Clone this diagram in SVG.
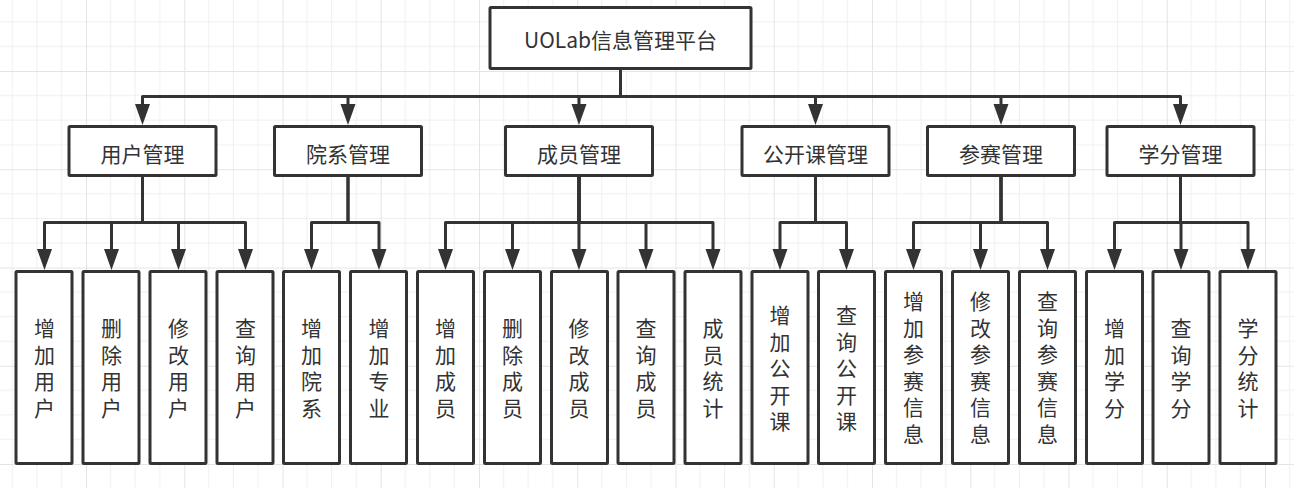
<svg xmlns="http://www.w3.org/2000/svg" width="1294" height="488" viewBox="0 0 1294 488">
<style>
.box{fill:#ffffff;stroke:#333333;stroke-width:3;}
.t{font-family:"Noto Sans CJK SC","Noto Sans",sans-serif;font-size:21px;fill:#333333;text-anchor:middle;dominant-baseline:central;}
.v{font-family:"Noto Sans CJK SC","Noto Sans",sans-serif;font-size:21px;fill:#333333;text-anchor:middle;writing-mode:vertical-rl;letter-spacing:5.5px;}
.c{fill:none;stroke:#333333;stroke-width:3;stroke-linejoin:round;marker-end:url(#arr);}
.minor{stroke:#efefef;stroke-width:1;}
.major{stroke:#e4e4e4;stroke-width:1;}
</style>
<defs>
<marker id="arr" markerUnits="userSpaceOnUse" markerWidth="22" markerHeight="16" viewBox="0 0 22 16" refX="1" refY="8" orient="auto">
<path d="M0,0.5 L21,8 L0,15.5 z" fill="#333333"/>
</marker>
<pattern id="grid" patternUnits="userSpaceOnUse" x="86" y="71" width="98.25" height="98.25">
<path class="minor" d="M24.56,0 V98.25 M49.12,0 V98.25 M73.69,0 V98.25 M0,24.56 H98.25 M0,49.12 H98.25 M0,73.69 H98.25"/>
<path class="major" d="M0.5,0 V98.25 M0,0.5 H98.25"/>
</pattern>
</defs>
<rect x="0" y="0" width="1294" height="488" fill="#ffffff"/>
<rect x="0" y="0" width="1294" height="488" fill="url(#grid)"/>

<g id="connectors">
<path class="c" d="M620.5,68.5 V96.5 H142.5 V105"/>
<path class="c" d="M620.5,68.5 V96.5 H348 V105"/>
<path class="c" d="M620.5,68.5 V96.5 H579 V105"/>
<path class="c" d="M620.5,68.5 V96.5 H815.5 V105"/>
<path class="c" d="M620.5,68.5 V96.5 H1001 V105"/>
<path class="c" d="M620.5,68.5 V96.5 H1180.5 V105"/>

<path class="c" d="M142.5,175 V222.5 H44.5 V250"/>
<path class="c" d="M142.5,175 V222.5 H111.5 V250"/>
<path class="c" d="M142.5,175 V222.5 H178.5 V250"/>
<path class="c" d="M142.5,175 V222.5 H245.5 V250"/>

<path class="c" d="M348,175 V222.5 H311.5 V250"/>
<path class="c" d="M348,175 V222.5 H379 V250"/>

<path class="c" d="M579,175 V222.5 H445.5 V250"/>
<path class="c" d="M579,175 V222.5 H512.5 V250"/>
<path class="c" d="M579,175 V222.5 H579 V250"/>
<path class="c" d="M579,175 V222.5 H646 V250"/>
<path class="c" d="M579,175 V222.5 H713 V250"/>

<path class="c" d="M815.5,175 V222.5 H780 V250"/>
<path class="c" d="M815.5,175 V222.5 H846.5 V250"/>

<path class="c" d="M1001,175 V222.5 H913.5 V250"/>
<path class="c" d="M1001,175 V222.5 H980.5 V250"/>
<path class="c" d="M1001,175 V222.5 H1047.5 V250"/>

<path class="c" d="M1180.5,175 V222.5 H1114.5 V250"/>
<path class="c" d="M1180.5,175 V222.5 H1181 V250"/>
<path class="c" d="M1180.5,175 V222.5 H1248 V250"/>
</g>

<g id="root">
<rect class="box" x="490" y="7.5" width="261" height="61" rx="1"/>
<text class="t" x="620.5" y="39">UOLab信息管理平台</text>
</g>

<g id="m-user"><rect class="box" x="69" y="126.5" width="147" height="49" rx="1"/><text class="t" x="142.5" y="152.5">用户管理</text></g>
<g id="m-dept"><rect class="box" x="274.5" y="126.5" width="147" height="49" rx="1"/><text class="t" x="348" y="152.5">院系管理</text></g>
<g id="m-member"><rect class="box" x="505.5" y="126.5" width="147" height="49" rx="1"/><text class="t" x="579" y="152.5">成员管理</text></g>
<g id="m-course"><rect class="box" x="742" y="126.5" width="147" height="49" rx="1"/><text class="t" x="815.5" y="152.5">公开课管理</text></g>
<g id="m-contest"><rect class="box" x="927.5" y="126.5" width="147" height="49" rx="1"/><text class="t" x="1001" y="152.5">参赛管理</text></g>
<g id="m-credit"><rect class="box" x="1107" y="126.5" width="147" height="49" rx="1"/><text class="t" x="1180.5" y="152.5">学分管理</text></g>

<g id="l-add-user"><rect class="box" x="16" y="271.5" width="56" height="192" rx="1"/><text class="v" x="44.5" y="371">增加用户</text></g>
<g id="l-del-user"><rect class="box" x="83" y="271.5" width="56" height="192" rx="1"/><text class="v" x="111.5" y="371">删除用户</text></g>
<g id="l-mod-user"><rect class="box" x="150" y="271.5" width="56" height="192" rx="1"/><text class="v" x="178.5" y="371">修改用户</text></g>
<g id="l-q-user"><rect class="box" x="217" y="271.5" width="56" height="192" rx="1"/><text class="v" x="245.5" y="371">查询用户</text></g>
<g id="l-add-dept"><rect class="box" x="283.5" y="271.5" width="56" height="192" rx="1"/><text class="v" x="311.5" y="371">增加院系</text></g>
<g id="l-add-major"><rect class="box" x="350.5" y="271.5" width="56" height="192" rx="1"/><text class="v" x="379" y="371">增加专业</text></g>
<g id="l-add-mem"><rect class="box" x="417.5" y="271.5" width="56" height="192" rx="1"/><text class="v" x="445.5" y="371">增加成员</text></g>
<g id="l-del-mem"><rect class="box" x="484.5" y="271.5" width="56" height="192" rx="1"/><text class="v" x="512.5" y="371">删除成员</text></g>
<g id="l-mod-mem"><rect class="box" x="551.5" y="271.5" width="56" height="192" rx="1"/><text class="v" x="579" y="371">修改成员</text></g>
<g id="l-q-mem"><rect class="box" x="618" y="271.5" width="56" height="192" rx="1"/><text class="v" x="646" y="371">查询成员</text></g>
<g id="l-stat-mem"><rect class="box" x="685" y="271.5" width="56" height="192" rx="1"/><text class="v" x="713" y="371">成员统计</text></g>
<g id="l-add-course"><rect class="box" x="752" y="271.5" width="56" height="192" rx="1"/><text class="v" x="780" y="371">增加公开课</text></g>
<g id="l-q-course"><rect class="box" x="818.5" y="271.5" width="56" height="192" rx="1"/><text class="v" x="846.5" y="371">查询公开课</text></g>
<g id="l-add-contest"><rect class="box" x="885.5" y="271.5" width="56" height="192" rx="1"/><text class="v" x="913.5" y="370.5">增加参赛信息</text></g>
<g id="l-mod-contest"><rect class="box" x="952.5" y="271.5" width="56" height="192" rx="1"/><text class="v" x="980.5" y="370.5">修改参赛信息</text></g>
<g id="l-q-contest"><rect class="box" x="1019.5" y="271.5" width="56" height="192" rx="1"/><text class="v" x="1047.5" y="370.5">查询参赛信息</text></g>
<g id="l-add-credit"><rect class="box" x="1086.5" y="271.5" width="56" height="192" rx="1"/><text class="v" x="1114.5" y="371">增加学分</text></g>
<g id="l-q-credit"><rect class="box" x="1153" y="271.5" width="56" height="192" rx="1"/><text class="v" x="1181" y="371">查询学分</text></g>
<g id="l-stat-credit"><rect class="box" x="1220" y="271.5" width="56" height="192" rx="1"/><text class="v" x="1248" y="371">学分统计</text></g>
</svg>
